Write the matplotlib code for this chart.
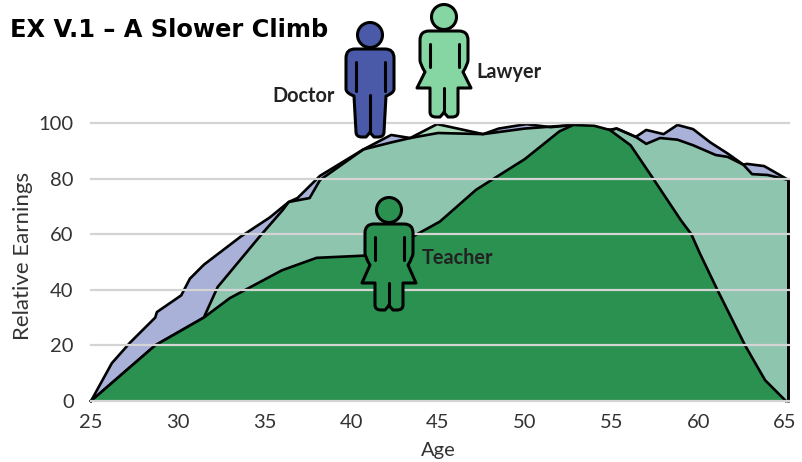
import matplotlib
matplotlib.use("Agg")
import matplotlib.pyplot as plt
from matplotlib.patches import Circle, PathPatch
from matplotlib.path import Path

W, H = 802, 462

# earnings curves
doctor_age = [25, 26.2, 27.25, 28.7, 28.8, 30.2, 30.7, 31.5, 33.6, 35.3, 36.4, 36.9, 38.2, 40.7, 42.3, 43.4,
              45, 47.6, 48.5, 50.1, 51.5, 52.8, 54.9, 55.3, 56.4, 57, 58, 58.8, 59.7, 60.7, 61.7, 62.6, 62.8,
              63.8, 65.2, 65.2]
doctor_val = [0, 13.6, 21, 30, 32, 38, 44, 49, 59, 66, 71.6, 73, 81, 90.5, 95.7, 94.6,
              96.4, 96, 98, 99.6, 98.5, 99.3, 97.5, 98, 95, 97.5, 96, 99.3, 97.8, 93, 89, 85, 85.3,
              84.5, 79.5, 0]

lawyer_age = [25, 28.7, 31.5, 32.3, 34.7, 36.05, 36.4, 37.6, 38.2, 40.7, 42.3, 43.4, 44.95, 47.6, 50, 52.8, 54.9,
              55.3, 56.4, 57, 57.8, 58.8, 59.7, 61, 61.7, 62.6, 63.1, 64, 65.2, 65.2]
lawyer_val = [0, 20, 30, 41, 59, 68.7, 71.6, 73, 79.5, 90.5, 93, 94.6, 99.6, 96, 98, 99.3, 97.5,
              98, 95, 92.5, 94.6, 94, 92, 88.5, 87.8, 85, 81.6, 81.3, 79.5, 0]

teacher_age = [25, 28.7, 31.5, 33, 34.5, 36, 38, 41.5, 43.5, 45.1, 47.2, 50, 51, 52, 52.8, 54, 54.9, 56.1,
               57.4, 59, 59.6, 60.1, 61.1, 62.7, 63.85, 65.05]
teacher_val = [0, 20, 30, 37, 42, 47, 51.5, 52.5, 59, 64.5, 76, 87, 92, 97, 99.3, 99, 97.5, 92,
               80, 65, 60, 53, 40, 20, 7.5, 0]

x_ticks = [25, 30, 35, 40, 45, 50, 55, 60, 65]
y_ticks = [0, 20, 40, 60, 80, 100]

plt.rcParams["font.family"] = ["Lato", "DejaVu Sans"]

fig = plt.figure(figsize=(W / 100, H / 100), dpi=100)
ax = fig.add_axes([91 / W, 1 - 401 / H, (789 - 91) / W, (401 - 123) / H])

ax.fill(doctor_age, doctor_val, color="#A9B1D9", lw=0, zorder=1)
ax.fill(lawyer_age, lawyer_val, color="#83CE9E", alpha=0.7, lw=0, zorder=2)
ax.plot(doctor_age, doctor_val, color="black", lw=1.9, zorder=3, clip_on=False, solid_joinstyle="round")
ax.plot(lawyer_age, lawyer_val, color="black", lw=1.9, zorder=3, clip_on=False, solid_joinstyle="round")
ax.fill(teacher_age, teacher_val, color="#2B9150", lw=0, zorder=4)
ax.plot(teacher_age, teacher_val, color="black", lw=1.9, zorder=5, clip_on=False, solid_joinstyle="round")
for v in y_ticks:
    ax.axhline(v, color="#D4D4D4", lw=1.6, zorder=6, clip_on=False)

ax.set_xlim(25, 65.23)
ax.set_ylim(0, 100)
ax.set_xticks(x_ticks)
ax.set_yticks(y_ticks)
ax.tick_params(axis="x", length=0, labelsize=14.5, labelcolor="#333333", pad=9.5)
ax.tick_params(axis="y", length=0, labelsize=14.5, labelcolor="#333333", pad=12.5)
ax.patch.set_alpha(0)
for s in ax.spines.values():
    s.set_visible(False)
ax.set_xlabel("Age", fontsize=14.5, color="#333333")
ax.set_ylabel("Relative Earnings", fontsize=16, color="#333333")
ax.xaxis.set_label_coords((438 - 91) / 698, -(442 - 401) / 278)
ax.yaxis.set_label_coords((33 - 91) / 698, (401 - 256) / 278)

# overlay in pixel coordinates for the pictograms and labels
ov = fig.add_axes([0, 0, 1, 1], zorder=10)
ov.set_xlim(0, W)
ov.set_ylim(H, 0)
ov.axis("off")


def person(cx, top, color, skirt=None):
    """Pictogram: top = shoulder line; skirt = (y0, y1) for the female figure."""
    hw = 24
    arm = top + (44 if skirt is None else 33)
    bottom = top + (88 if skirt is None else 86)
    leg = 14
    r = 9
    v = [(cx - hw + r, top), (cx + hw - r, top), (cx + hw, top), (cx + hw, top + r),
         (cx + hw, arm - 4)]
    c = [Path.MOVETO, Path.LINETO, Path.CURVE3, Path.CURVE3, Path.LINETO]
    if skirt is None:
        v += [(cx + hw, arm), (cx + leg + 2, arm + 3), (cx + leg, bottom - 5)]
        c += [Path.CURVE3, Path.CURVE3, Path.LINETO]
    else:
        y0, y1 = skirt
        v += [(cx + hw, arm), (cx + 19, y0), (cx + 27, y1), (cx + leg, y1), (cx + leg, bottom - 5)]
        c += [Path.CURVE3, Path.CURVE3, Path.LINETO, Path.LINETO, Path.LINETO]
    v += [(cx + leg, bottom), (cx + leg - 6, bottom), (cx + 4, bottom), (cx + 1, bottom - 3), (cx, bottom - 5),
          (cx - 1, bottom - 3), (cx - 4, bottom), (cx - leg + 6, bottom), (cx - leg, bottom), (cx - leg, bottom - 5)]
    c += [Path.CURVE3, Path.CURVE3, Path.LINETO, Path.CURVE3, Path.CURVE3,
          Path.CURVE3, Path.CURVE3, Path.LINETO, Path.CURVE3, Path.CURVE3]
    if skirt is None:
        v += [(cx - leg - 2, arm + 3)]
        c += [Path.LINETO]
    else:
        y0, y1 = skirt
        v += [(cx - leg, y1), (cx - 27, y1), (cx - 19, y0)]
        c += [Path.LINETO, Path.LINETO, Path.LINETO]
    v += [(cx - hw, arm), (cx - hw, arm - 4), (cx - hw, top + r), (cx - hw, top),
          (cx - hw + r, top), (cx - hw + r, top)]
    c += [Path.CURVE3, Path.CURVE3, Path.LINETO, Path.CURVE3, Path.CURVE3, Path.CLOSEPOLY]
    ov.add_patch(PathPatch(Path(v, c), fc=color, ec="black", lw=2.2, joinstyle="round"))
    ov.add_patch(Circle((cx, top - 14), 12.5, fc=color, ec="black", lw=2.2))
    # arm slits and leg split
    slit_end = top + 42 if skirt is None else top + 36
    ov.plot([cx - 14.5, cx - 14.5], [top + 13, slit_end], color="black", lw=2.2, solid_capstyle="round")
    ov.plot([cx + 14.5, cx + 14.5], [top + 13, slit_end], color="black", lw=2.2, solid_capstyle="round")
    split = bottom - 42 if skirt is None else skirt[1]
    ov.plot([cx, cx], [split, bottom - 4], color="black", lw=2.2, solid_capstyle="round")


person(370, 49, "#4A5AA8")
person(444, 31, "#86D6A3", skirt=(72, 88))
person(389, 224, "#2B9150", skirt=(265, 283))

label_style = dict(fontsize=14.3, fontweight="bold", color="#222222", va="center")
ov.text(335, 96.5, "Doctor", ha="right", **label_style)
ov.text(476, 71.5, "Lawyer", ha="left", **label_style)
ov.text(422, 258.5, "Teacher", ha="left", **label_style)

ov.text(10, 30, "EX V.1 – A Slower Climb", fontsize=17.4, fontweight="bold", color="black",
        family=["DejaVu Sans"], va="center", ha="left")

fig.savefig("out.png", dpi=100)
